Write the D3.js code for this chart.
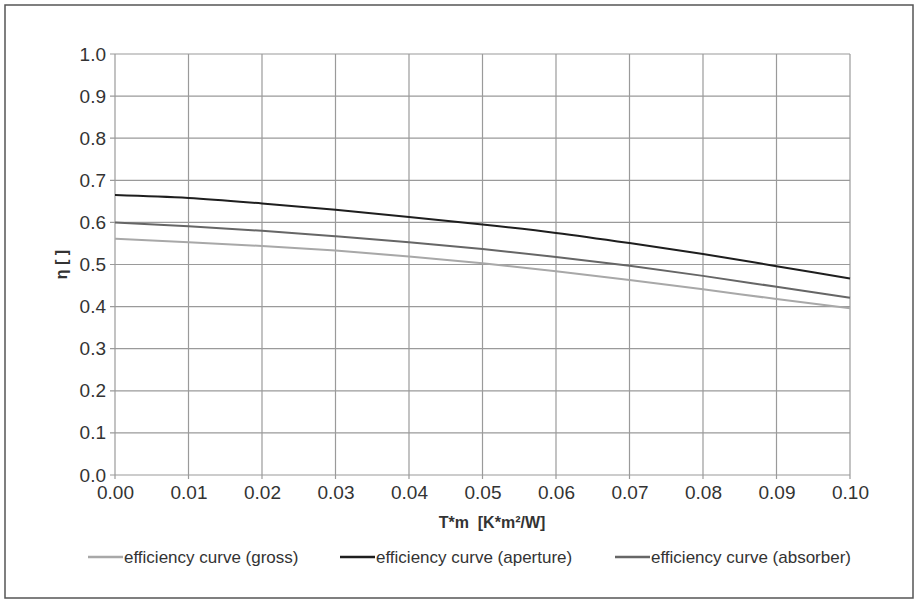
<!DOCTYPE html>
<html>
<head>
<meta charset="utf-8">
<script src="https://cdn.jsdelivr.net/npm/d3@7"></script>
<style>
  body { margin: 0; background: #fff; }
  text { font-family: "Liberation Sans", Arial, sans-serif; fill: #333; }
</style>
</head>
<body>
<svg id="chart" width="920" height="606"></svg>
<script>
// data
const xValues  = [0, 0.01, 0.02, 0.03, 0.04, 0.05, 0.06, 0.07, 0.08, 0.09, 0.10];
const gross    = [0.561, 0.553, 0.544, 0.533, 0.519, 0.503, 0.484, 0.463, 0.441, 0.418, 0.396];
const aperture = [0.665, 0.658, 0.645, 0.630, 0.613, 0.595, 0.575, 0.551, 0.525, 0.496, 0.467];
const absorber = [0.600, 0.591, 0.580, 0.567, 0.553, 0.537, 0.518, 0.497, 0.473, 0.447, 0.421];
const xTicks = [0, 0.01, 0.02, 0.03, 0.04, 0.05, 0.06, 0.07, 0.08, 0.09, 0.10];
const yTicks = [0, 0.1, 0.2, 0.3, 0.4, 0.5, 0.6, 0.7, 0.8, 0.9, 1.0];

const series = [
  { name: 'efficiency curve (gross)',    values: gross,    color: '#a8a8a8' },
  { name: 'efficiency curve (aperture)', values: aperture, color: '#1e1e1e' },
  { name: 'efficiency curve (absorber)', values: absorber, color: '#666666' }
];

const svg = d3.select('#chart');
const margin = { top: 54, right: 70, bottom: 131, left: 115 };
const width  = 920 - margin.left - margin.right;
const height = 606 - margin.top - margin.bottom;

// frame
svg.append('rect')
  .attr('x', 5).attr('y', 5).attr('width', 908).attr('height', 593)
  .attr('fill', 'none').attr('stroke', '#555').attr('stroke-width', 1.5);

const g = svg.append('g')
  .attr('transform', `translate(${margin.left},${margin.top})`);

const x = d3.scaleLinear().domain([0, 0.1]).range([0, width]);
const y = d3.scaleLinear().domain([0, 1]).range([height, 0]);

// grid
g.append('g')
  .selectAll('line')
  .data(xTicks)
  .join('line')
    .attr('x1', d => x(d)).attr('x2', d => x(d))
    .attr('y1', 0).attr('y2', height + 4)
    .attr('stroke', '#9a9a9a').attr('stroke-width', 1.2);
g.append('g')
  .selectAll('line')
  .data(yTicks)
  .join('line')
    .attr('x1', -5).attr('x2', width)
    .attr('y1', d => y(d)).attr('y2', d => y(d))
    .attr('stroke', '#9a9a9a').attr('stroke-width', 1.2);

// axes labels
const xAxis = g.append('g')
  .attr('transform', `translate(0,${height})`)
  .call(d3.axisBottom(x).tickValues(xTicks).tickFormat(d3.format('.2f')).tickSize(0).tickPadding(11));
const yAxis = g.append('g')
  .call(d3.axisLeft(y).tickValues(yTicks).tickFormat(d3.format('.1f')).tickSize(0).tickPadding(9));
[xAxis, yAxis].forEach(a => {
  a.select('.domain').remove();
  a.selectAll('text').style('font-size', '19px').attr('fill', '#333');
});

// curves
const line = d3.line()
  .x((d, i) => x(xValues[i]))
  .y(d => y(d))
  .curve(d3.curveMonotoneX);
g.selectAll('.curve')
  .data(series)
  .join('path')
    .attr('class', 'curve')
    .attr('d', d => line(d.values))
    .attr('fill', 'none')
    .attr('stroke', d => d.color)
    .attr('stroke-width', 2);

// titles
svg.append('text')
  .attr('x', 492).attr('y', 528)
  .attr('text-anchor', 'middle')
  .style('font-size', '16px').style('font-weight', 'bold')
  .style('white-space', 'pre')
  .text('T*m  [K*m²/W]');
svg.append('text')
  .attr('transform', `translate(67,${margin.top + height / 2}) rotate(-90)`)
  .attr('text-anchor', 'middle')
  .style('font-size', '16px').style('font-weight', 'bold')
  .style('white-space', 'pre')
  .text('η [ ]');

// legend
const legendX = [88, 340, 615];
const lg = svg.append('g').selectAll('g')
  .data(series)
  .join('g')
    .attr('transform', (d, i) => `translate(${legendX[i]},557)`);
lg.append('line')
  .attr('x1', 0).attr('x2', 35)
  .attr('stroke', d => d.color).attr('stroke-width', 2.5);
lg.append('text')
  .attr('x', 36).attr('dy', '0.35em')
  .style('font-size', '17px')
  .text(d => d.name);
</script>
</body>
</html>
